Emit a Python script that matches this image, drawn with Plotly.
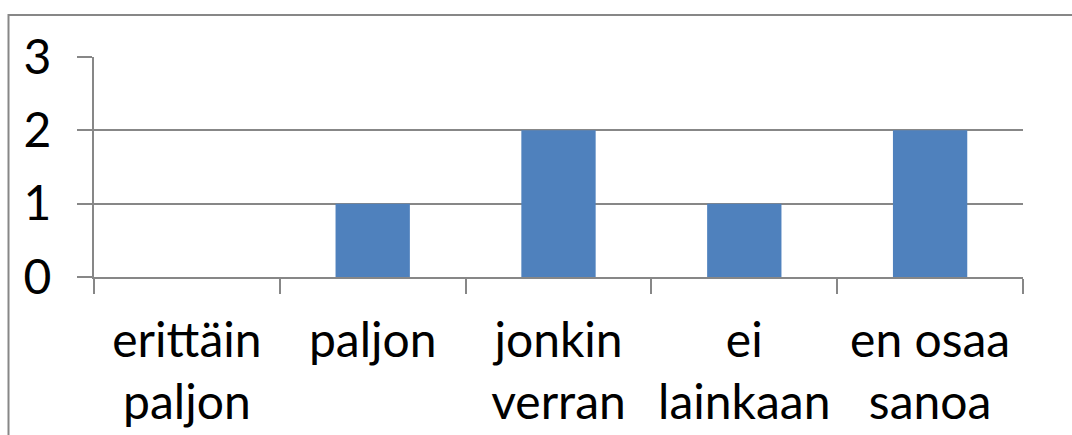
import plotly.graph_objects as go

categories = ["erittäin<br>paljon", "paljon", "jonkin<br>verran", "ei<br>lainkaan", "en osaa<br>sanoa"]
values = [0, 1, 2, 1, 2]
y_ticks = [0, 1, 2, 3]

BAR = "#4F81BD"
GRID = "#878787"
FONT = "Lato"
SIZE = 48

fig = go.Figure(
    go.Bar(x=categories, y=values, marker=dict(color=BAR, line=dict(width=0)), width=0.4)
)

fig.update_layout(
    width=1072,
    height=435,
    margin=dict(l=94, r=49, t=57, b=158),
    paper_bgcolor="white",
    plot_bgcolor="white",
    showlegend=False,
    font=dict(family=FONT, size=SIZE, color="black"),
    shapes=[
        # outer chart frame (top and left edges fall inside the page)
        dict(
            type="rect", xref="paper", yref="paper",
            x0=(8.5 - 94) / 929, x1=(1090 - 94) / 929,
            y0=(277 - 460) / 220, y1=(277 - 15) / 220,
            line=dict(color=GRID, width=2), fillcolor="rgba(0,0,0,0)", layer="below",
        )
    ],
)

fig.update_xaxes(
    showline=True, linecolor=GRID, linewidth=2,
    ticks="outside", tickson="boundaries", ticklen=15, tickwidth=2, tickcolor=GRID,
    showgrid=False, zeroline=False, automargin=False,
    tickfont=dict(family=FONT, size=SIZE, color="black"),
    ticklabelstandoff=20,
)
fig.update_yaxes(
    range=[0, 3], tickvals=y_ticks, ticktext=[str(v) for v in y_ticks],
    showline=True, linecolor=GRID, linewidth=2,
    ticks="outside", ticklen=15, tickwidth=2, tickcolor=GRID,
    showgrid=True, gridcolor=GRID, gridwidth=2, zeroline=False, automargin=False,
    tickfont=dict(family=FONT, size=SIZE, color="black"),
    ticklabelstandoff=16,
)

fig.write_html("out.html")
